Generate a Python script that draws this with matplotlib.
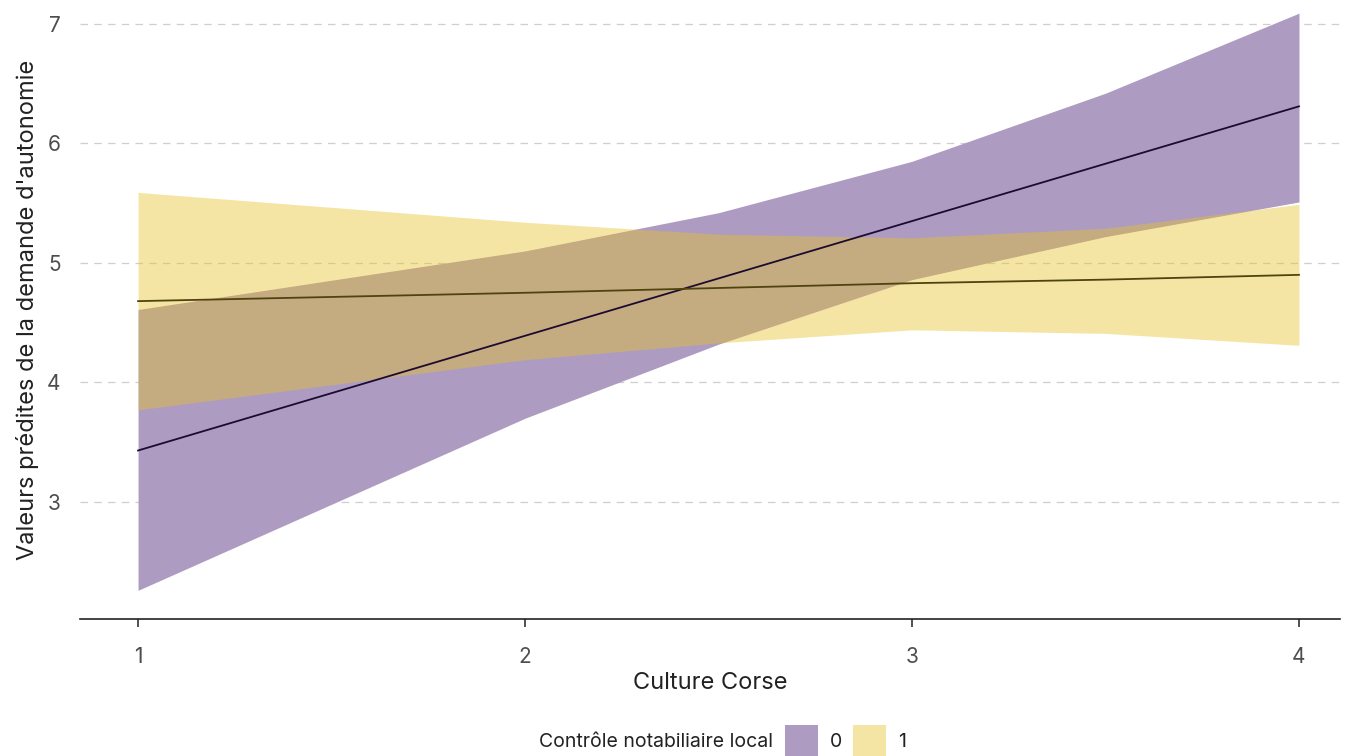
import matplotlib.pyplot as plt
from matplotlib.patches import Rectangle
import numpy as np

plt.rcParams['font.family'] = ['Inter', 'DejaVu Sans']

# predicted values, group 0 / 1 of "Contrôle notabiliaire local"
x = [1, 2, 2.5, 3, 3.5, 4]
fit0 = [3.43, 4.39, 4.87, 5.35, 5.83, 6.31]
lo0 = [2.26, 3.70, 4.32, 4.86, 5.22, 5.51]
hi0 = [4.61, 5.10, 5.42, 5.85, 6.42, 7.09]
fit1 = [4.68, 4.75, 4.79, 4.83, 4.86, 4.90]
lo1 = [3.77, 4.19, 4.33, 4.44, 4.41, 4.31]
hi1 = [5.59, 5.34, 5.24, 5.21, 5.29, 5.49]
groups = ['0', '1']
fill_cols = ['#ae9bc2', '#e6c223']
line_cols = ['#1c0b30', '#4f4410']

fig = plt.figure(figsize=(13.52, 7.56), dpi=100)
ax = fig.add_axes([80/1352, 1 - 619/756, 1260/1352, 619/756])

ax.fill_between(x, lo0, hi0, color=fill_cols[0], lw=0)
ax.plot(x, fit0, color=line_cols[0], lw=1.3)
ax.fill_between(x, lo1, hi1, color=fill_cols[1], alpha=0.41, lw=0)
ax.plot(x, fit1, color=line_cols[1], lw=1.3)

ax.set_xlim(0.85, 4.106)
ax.set_ylim(2.02, 7.2)
ax.set_xticks([1, 2, 3, 4])
ax.set_yticks([3, 4, 5, 6, 7])
ax.yaxis.grid(True, color='#cfcfcf', ls=(0, (6, 5)), lw=0.9)
ax.set_axisbelow(True)
for s in ['top', 'right', 'left']:
    ax.spines[s].set_visible(False)
ax.spines['bottom'].set_color('#222222')
ax.spines['bottom'].set_linewidth(1.2)
ax.tick_params(axis='x', length=6, width=1.2, color='#333333', pad=14,
               labelsize=15, labelcolor='#4d4d4d')
ax.tick_params(axis='y', length=0, pad=14, labelsize=15, labelcolor='#4d4d4d')
ax.set_xlabel('Culture Corse', fontsize=17, color='#222222', labelpad=4)
ax.set_ylabel("Valeurs prédites de la demande d'autonomie", fontsize=17,
              color='#222222', labelpad=6)

# legend at bottom
fig.text(773/1352, 1 - 742/756, 'Contrôle notabiliaire local', ha='right',
         va='center', fontsize=14, color='#222222')
key_x = [785, 853]
for kx, col, g, a in zip(key_x, fill_cols, groups, [1, 0.41]):
    fig.patches.append(Rectangle((kx/1352, 1 - 760/756), 33/1352, 35/756,
                                 transform=fig.transFigure, color=col, alpha=a,
                                 lw=0, clip_on=False))
    fig.text((kx + 45)/1352, 1 - 742/756, g, ha='left', va='center',
             fontsize=14, color='#222222')

fig.savefig('out.png', dpi=100)
